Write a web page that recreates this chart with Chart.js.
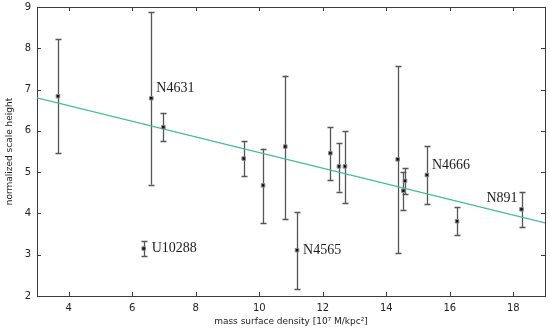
<!DOCTYPE html>
<html>
<head>
<meta charset="utf-8">
<script src="https://cdn.jsdelivr.net/npm/chart.js@4/dist/chart.umd.min.js"></script>
<style>
  html, body { margin: 0; padding: 0; background: #ffffff; }
  #wrap { width: 550px; height: 331px; position: relative; }
</style>
</head>
<body>
<div id="wrap"><canvas id="c" width="550" height="331"></canvas></div>
<script>
// ---- data ----
const density = [3.66, 6.60, 6.98, 6.36, 9.51, 10.12, 10.82, 11.19, 12.24, 12.51, 12.70, 14.36, 14.54, 14.59, 15.28, 16.23, 18.26];
const scaleHeight = [6.84, 6.79, 6.09, 3.15, 5.33, 4.68, 5.62, 3.11, 5.46, 5.14, 5.14, 5.31, 4.55, 4.79, 4.93, 3.81, 4.10];
const errLow  = [5.46, 4.70, 5.75, 2.97, 4.91, 3.77, 3.87, 2.17, 4.81, 4.53, 4.26, 3.04, 4.08, 4.47, 4.22, 3.48, 3.66];
const errHigh = [8.22, 8.88, 6.44, 3.34, 5.75, 5.57, 7.34, 4.04, 6.09, 5.71, 6.00, 7.58, 5.00, 5.10, 5.64, 4.15, 4.52];
const galaxyNames = ["", "N4631", "", "U10288", "", "", "", "N4565", "", "", "", "", "", "", "N4666", "", "N891"];
const fitX = [3, 19];
const fitY = [6.80, 3.77];
const xTicks = [4, 6, 8, 10, 12, 14, 16, 18];
const yTicks = [2, 3, 4, 5, 6, 7, 8, 9];

// label placement (pixel offsets from the point, text alignment)
const labelPlace = {
  "N4631": {dx: 5, dy: -10, align: "left"},
  "U10288": {dx: 8, dy: 0, align: "left"},
  "N4565": {dx: 6, dy: 0, align: "left"},
  "N4666": {dx: 5, dy: -10, align: "left"},
  "N891": {dx: -4, dy: -11, align: "right"}
};

const points = density.map((x, i) => ({x: x, y: scaleHeight[i]}));
const fitLine = fitX.map((x, i) => ({x: x, y: fitY[i]}));

const frameColor = "#3a3a3a";

const decorPlugin = {
  id: "decor",
  beforeDatasetsDraw(chart) {
    const ctx = chart.ctx, a = chart.chartArea;
    const xs = chart.scales.x, ys = chart.scales.y;
    ctx.save();
    // frame
    ctx.strokeStyle = frameColor;
    ctx.lineWidth = 1;
    ctx.strokeRect(Math.round(a.left) + 0.5, Math.round(a.top) + 0.5,
                   Math.round(a.right - a.left), Math.round(a.bottom - a.top));
    // inward ticks on all sides
    const tl = 4;
    ctx.beginPath();
    xTicks.forEach(v => {
      const px = Math.round(xs.getPixelForValue(v)) + 0.5;
      ctx.moveTo(px, a.bottom); ctx.lineTo(px, a.bottom - tl);
      ctx.moveTo(px, a.top); ctx.lineTo(px, a.top + tl);
    });
    yTicks.forEach(v => {
      const py = Math.round(ys.getPixelForValue(v)) + 0.5;
      ctx.moveTo(a.left, py); ctx.lineTo(a.left + tl, py);
      ctx.moveTo(a.right, py); ctx.lineTo(a.right - tl, py);
    });
    ctx.stroke();
    // error bars
    ctx.strokeStyle = "#555555";
    ctx.lineWidth = 1.3;
    ctx.beginPath();
    density.forEach((x, i) => {
      const px = Math.round(xs.getPixelForValue(x)) + 0.5;
      const pLo = ys.getPixelForValue(errLow[i]);
      const pHi = ys.getPixelForValue(errHigh[i]);
      ctx.moveTo(px, pLo); ctx.lineTo(px, pHi);
      ctx.moveTo(px - 3, Math.round(pLo) + 0.5); ctx.lineTo(px + 3, Math.round(pLo) + 0.5);
      ctx.moveTo(px - 3, Math.round(pHi) + 0.5); ctx.lineTo(px + 3, Math.round(pHi) + 0.5);
    });
    ctx.stroke();
    ctx.restore();
  },
  afterDatasetsDraw(chart) {
    const ctx = chart.ctx;
    const xs = chart.scales.x, ys = chart.scales.y;
    ctx.save();
    ctx.fillStyle = "#1a1a1a";
    ctx.font = "14px 'Liberation Serif', 'DejaVu Serif', serif";
    ctx.textBaseline = "middle";
    galaxyNames.forEach((name, i) => {
      if (!name) return;
      const p = labelPlace[name];
      ctx.textAlign = p.align;
      ctx.fillText(name, xs.getPixelForValue(density[i]) + p.dx, ys.getPixelForValue(scaleHeight[i]) + p.dy);
    });
    ctx.restore();
  }
};

new Chart(document.getElementById("c"), {
  type: "scatter",
  data: {
    datasets: [
      {
        type: "line",
        label: "fit",
        data: fitLine,
        borderColor: "#3fbf93",
        borderWidth: 1.4,
        pointRadius: 0,
        fill: false,
        order: 2
      },
      {
        label: "galaxies",
        data: points,
        pointStyle: "rect",
        pointRadius: 2.5,
        backgroundColor: "#111111",
        borderColor: "#8a8a8a",
        borderWidth: 1,
        order: 1
      }
    ]
  },
  options: {
    responsive: false,
    animation: false,
    devicePixelRatio: 1,
    layout: { padding: { top: 7, right: 4, left: 4, bottom: 4 } },
    plugins: {
      legend: { display: false },
      tooltip: { enabled: false }
    },
    scales: {
      x: {
        type: "linear",
        min: 3, max: 19,
        afterBuildTicks: s => { s.ticks = xTicks.map(v => ({value: v})); },
        afterFit: s => { s.height = 31; s.paddingLeft = 0; s.paddingRight = 0; },
        grid: { display: false, drawTicks: false },
        border: { display: false },
        ticks: { color: "#222", font: { family: "'DejaVu Sans', sans-serif", size: 10 }, padding: 6, maxRotation: 0 },
        title: {
          display: true,
          text: "mass surface density [10\u2077 M/kpc\u00B2]",
          color: "#222",
          font: { family: "'DejaVu Sans', sans-serif", size: 9 },
          padding: 0
        }
      },
      y: {
        type: "linear",
        min: 2, max: 9,
        afterBuildTicks: s => { s.ticks = yTicks.map(v => ({value: v})); },
        afterFit: s => { s.width = 33; s.paddingTop = 0; s.paddingBottom = 0; },
        grid: { display: false, drawTicks: false },
        border: { display: false },
        ticks: { color: "#222", font: { family: "'DejaVu Sans', sans-serif", size: 10 }, padding: 6 },
        title: {
          display: true,
          text: "normalized scale height",
          color: "#222",
          font: { family: "'DejaVu Sans', sans-serif", size: 9 },
          padding: 0
        }
      }
    }
  },
  plugins: [decorPlugin]
});
</script>
</body>
</html>
